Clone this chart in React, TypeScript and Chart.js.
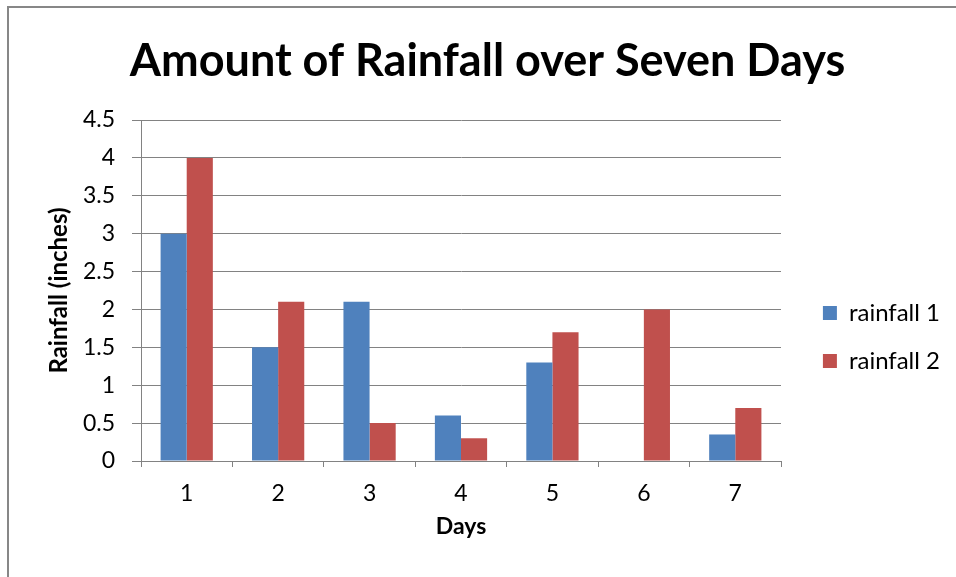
import React, { useEffect, useRef } from 'react';
import { Chart, registerables } from 'chart.js';

Chart.register(...registerables);

const categories = ['1', '2', '3', '4', '5', '6', '7'];
const rainfall1 = [3, 1.5, 2.1, 0.6, 1.3, 0, 0.35];
const rainfall2 = [4, 2.1, 0.5, 0.3, 1.7, 2, 0.7];
const seriesNames = ['rainfall 1', 'rainfall 2'];
const titleText = 'Amount of Rainfall over Seven Days';
const xTitle = 'Days';
const yTitle = 'Rainfall (inches)';
const yMin = 0;
const yMax = 4.5;
const yStep = 0.5;

const FONT = 'Lato';
const GRID = '#828282';
const CANVAS_W = 947;
const CANVAS_H = 569;
const PAD_L = 16;
const PAD_R = 6;
const PLOT_RIGHT = 772;

export default function App() {
  const ref = useRef<HTMLCanvasElement | null>(null);

  useEffect(() => {
    if (!ref.current) return;
    const chart = new Chart(ref.current, {
      type: 'bar',
      data: {
        labels: categories,
        datasets: [
          {
            label: seriesNames[0],
            data: rainfall1,
            backgroundColor: '#4F81BD',
            borderWidth: 0,
            categoryPercentage: 2 / 3.5,
            barPercentage: 1,
          },
          {
            label: seriesNames[1],
            data: rainfall2,
            backgroundColor: '#C0504D',
            borderWidth: 0,
            categoryPercentage: 2 / 3.5,
            barPercentage: 1,
          },
        ],
      },
      options: {
        responsive: false,
        animation: false,
        devicePixelRatio: 1,
        layout: { padding: { left: PAD_L, right: PAD_R, top: 0, bottom: 0 } },
        plugins: {
          tooltip: { enabled: false },
          title: {
            display: true,
            text: titleText,
            color: '#000',
            font: { family: FONT, size: 45, weight: 'bold' },
            padding: { top: 26, bottom: 32 },
          },
          legend: {
            position: 'right',
            title: {
              display: true,
              text: ' ',
              font: { family: FONT, size: 10 },
              padding: { top: 77, bottom: 0 },
            },
            labels: {
              color: '#000',
              font: { family: FONT, size: 24 },
              boxWidth: 14,
              boxHeight: 14,
              padding: 24,
            },
          },
        },
        scales: {
          x: {
            grid: {
              drawOnChartArea: false,
              drawTicks: true,
              tickLength: 6,
              color: GRID,
              offset: true,
            },
            border: { display: true, color: GRID, width: 1 },
            ticks: {
              color: '#000',
              font: { family: FONT, size: 23 },
              padding: 13,
              maxRotation: 0,
            },
            title: {
              display: true,
              text: xTitle,
              color: '#000',
              font: { family: FONT, size: 23, weight: 'bold' },
              padding: { top: 0, bottom: 37 },
            },
            afterFit: (s: any) => {
              s.height = 116;
            },
          },
          y: {
            min: yMin,
            max: yMax,
            grid: { color: GRID, tickLength: 9, drawTicks: true },
            border: { display: true, color: GRID, width: 1 },
            ticks: {
              stepSize: yStep,
              color: '#000',
              font: { family: FONT, size: 23 },
              padding: 17,
              callback: (v: any) => String(Number(v)),
            },
            title: {
              display: true,
              text: yTitle,
              color: '#000',
              font: { family: FONT, size: 24, weight: 'bold' },
              padding: { top: 20, bottom: 0 },
            },
            afterFit: (s: any) => {
              s.width = 132 - PAD_L;
            },
          },
          pad: {
            type: 'linear',
            position: 'right',
            display: true,
            grid: { display: false },
            border: { display: false },
            ticks: { display: false },
            afterFit: (s: any) => {
              const lw = s.chart && s.chart.legend ? s.chart.legend.width : 0;
              s.width = Math.max(0, CANVAS_W - PAD_R - lw - PLOT_RIGHT);
            },
          },
        },
      } as any,
    });
    return () => chart.destroy();
  }, []);

  return (
    <div
      style={{
        position: 'absolute',
        left: 7,
        top: 6,
        width: CANVAS_W,
        height: CANVAS_H,
        borderTop: '2px solid #878787',
        borderLeft: '2px solid #878787',
        background: '#fff',
      }}
    >
      <canvas ref={ref} width={CANVAS_W} height={CANVAS_H} style={{ display: 'block' }} />
    </div>
  );
}
